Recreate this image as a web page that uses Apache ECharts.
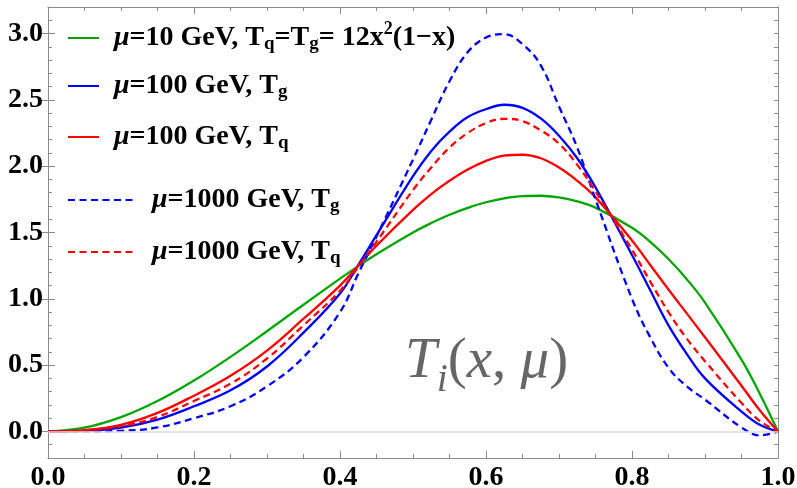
<!DOCTYPE html>
<html>
<head>
<meta charset="utf-8">
<script src="https://cdn.jsdelivr.net/npm/echarts@6/dist/echarts.min.js"></script>
<style>
  html, body { margin: 0; padding: 0; background: #fff; }
  #chart { width: 797px; height: 488px; }
</style>
</head>
<body>
<div id="chart"></div>
<script>
// x positions (denser where the curves bend most)
var xs = [0, 0.05, 0.1, 0.15, 0.2, 0.25, 0.3, 0.35, 0.4, 0.425, 0.45, 0.5, 0.525, 0.55, 0.575, 0.6, 0.625, 0.65, 0.675, 0.7, 0.725, 0.75, 0.8, 0.825, 0.85, 0.875, 0.9, 0.95, 0.975, 1];

// mu = 10 GeV, Tq = Tg
var t10    = [0, 0.0285, 0.108, 0.2295, 0.384, 0.5625, 0.756, 0.9555, 1.152, 1.2463, 1.3365, 1.5, 1.5711, 1.6335, 1.6862, 1.728, 1.758, 1.7745, 1.777, 1.764, 1.7346, 1.6875, 1.536, 1.4293, 1.3005, 1.1484, 0.972, 0.5415, 0.285, 0];
// mu = 100 GeV
var tg100  = [0, 0.005, 0.03, 0.09, 0.19, 0.31, 0.49, 0.745, 1.04, 1.255, 1.48, 1.925, 2.115, 2.26, 2.37, 2.43, 2.463, 2.44, 2.36, 2.23, 2.06, 1.84, 1.33, 1.065, 0.80, 0.585, 0.40, 0.15, 0.05, 0];
var tq100  = [0, 0.01, 0.05, 0.14, 0.27, 0.42, 0.61, 0.85, 1.10, 1.25, 1.40, 1.67, 1.79, 1.89, 1.975, 2.04, 2.08, 2.086, 2.06, 1.99, 1.89, 1.765, 1.44, 1.255, 1.07, 0.89, 0.71, 0.345, 0.16, 0];
// mu = 1000 GeV
var tg1000 = [0, 0, 0.005, 0.03, 0.10, 0.19, 0.34, 0.56, 0.90, 1.19, 1.47, 2.05, 2.35, 2.64, 2.86, 2.97, 2.995, 2.92, 2.76, 2.45, 2.14, 1.75, 1.0, 0.71, 0.48, 0.34, 0.24, 0.03, -0.03, 0];
var tq1000 = [0, 0.007, 0.04, 0.11, 0.23, 0.36, 0.55, 0.80, 1.06, 1.24, 1.43, 1.82, 1.99, 2.14, 2.25, 2.325, 2.357, 2.34, 2.27, 2.17, 2.01, 1.81, 1.37, 1.13, 0.90, 0.70, 0.53, 0.215, 0.08, 0];

var yTicks = [0, 0.5, 1.0, 1.5, 2.0, 2.5, 3.0];

var GREEN = '#00a600', BLUE = '#0000ff', RED = '#ff0000';
var SERIF = '"Liberation Serif", "Times New Roman", serif';

function pairs(ys) {
    var d = [];
    for (var i = 0; i < xs.length; i++) {
        d.push([xs[i], ys[i]]);
    }
    return d;
}

var rich = {
    mu:  { fontFamily: SERIF, fontSize: 28, fontWeight: 'bold', fontStyle: 'italic', lineHeight: 30, color: '#000', padding: [0, 0, 0, 10] },
    mu2: { fontFamily: SERIF, fontSize: 28, fontWeight: 'bold', fontStyle: 'italic', lineHeight: 30, color: '#000', padding: [0, 0, 0, 14] },
    b:   { fontFamily: SERIF, fontSize: 28, fontWeight: 'bold', lineHeight: 30, color: '#000' },
    sub: { fontFamily: SERIF, fontSize: 19, fontWeight: 'bold', lineHeight: 30, color: '#000', padding: [13, 0, 0, 0] },
    sup: { fontFamily: SERIF, fontSize: 18, fontWeight: 'bold', lineHeight: 30, color: '#000', padding: [0, 0, 18, 0] }
};

var legendText = {
    g10:   '{mu|μ}{b|=10 GeV, T}{sub|q}{b|=T}{sub|g}{b|= 12x}{sup|2}{b|(1−x)}',
    g100:  '{mu|μ}{b|=100 GeV, T}{sub|g}',
    q100:  '{mu|μ}{b|=100 GeV, T}{sub|q}',
    g1000: '{mu2|μ}{b|=1000 GeV, T}{sub|g}',
    q1000: '{mu2|μ}{b|=1000 GeV, T}{sub|q}'
};

function makeLegend(name, top, w) {
    return {
        data: [name],
        left: 67,
        top: top,
        padding: 0,
        itemWidth: w,
        itemHeight: 14,
        selectedMode: false,
        itemStyle: { opacity: 0 },
        formatter: function (n) { return legendText[n]; },
        textStyle: { rich: rich }
    };
}

function lineSeries(name, ys, color, dashed) {
    return {
        name: name,
        type: 'line',
        data: pairs(ys),
        smooth: 0.4,
        symbol: 'none',
        lineStyle: { color: color, width: 2.3, type: dashed ? [7, 4.5] : 'solid' },
        itemStyle: { color: color }
    };
}

var axisGray = '#8a8a8a';
var labelStyle = { fontFamily: SERIF, fontSize: 28, fontWeight: 'bold', color: '#000' };

function xAxisDef(pos, showLabel) {
    return {
        type: 'value', position: pos, min: 0, max: 1, interval: 0.2,
        axisLine: { show: true, onZero: false, lineStyle: { color: axisGray, width: 1 } },
        axisTick: { show: true, inside: true, length: 7, lineStyle: { color: axisGray } },
        minorTick: { show: true, splitNumber: 4, length: 4, lineStyle: { color: axisGray } },
        axisLabel: Object.assign({ show: showLabel, margin: 6, formatter: function (v) { return v.toFixed(1); } }, labelStyle),
        splitLine: { show: false }
    };
}

function yMinor(pos) {
    return {
        type: 'value', position: pos, min: -0.2, max: 3.2, interval: 0.1,
        axisLine: { show: true, onZero: false, lineStyle: { color: axisGray, width: 1 } },
        axisTick: { show: true, inside: true, length: 4, lineStyle: { color: axisGray } },
        axisLabel: { show: false },
        splitLine: { show: false }
    };
}

function yMajor(pos, showLabel) {
    return {
        type: 'value', position: pos, min: -0.2, max: 3.2,
        axisLine: { show: false },
        axisTick: { show: true, inside: true, length: 7, customValues: yTicks, lineStyle: { color: axisGray } },
        axisLabel: Object.assign({ show: showLabel, margin: 5, customValues: yTicks, formatter: function (v) { return v.toFixed(1); } }, labelStyle),
        splitLine: { show: false }
    };
}

var chart = echarts.init(document.getElementById('chart'));

var series = [
    lineSeries('g10', t10, GREEN, false),
    lineSeries('g100', tg100, BLUE, false),
    lineSeries('q100', tq100, RED, false),
    lineSeries('g1000', tg1000, BLUE, true),
    lineSeries('q1000', tq1000, RED, true)
];
// light zero line
series[0].markLine = {
    silent: true,
    symbol: ['none', 'none'],
    label: { show: false },
    lineStyle: { color: '#dcdcdc', width: 1.5, type: 'solid' },
    data: [{ yAxis: 0 }]
};

var titleRich = {
    t: { fontFamily: SERIF, fontSize: 57, fontStyle: 'italic', fontWeight: 'normal', color: '#666', lineHeight: 60 },
    s: { fontFamily: SERIF, fontSize: 40, fontStyle: 'italic', fontWeight: 'normal', color: '#666', lineHeight: 60, padding: [36, 0, 0, 0] },
    p: { fontFamily: SERIF, fontSize: 57, fontStyle: 'normal', fontWeight: 'normal', color: '#666', lineHeight: 60 }
};

var option = {
    animation: false,
    backgroundColor: '#fff',
    grid: { left: 48, right: 19, top: 7, bottom: 30, outerBoundsMode: 'none' },
    title: {
        text: '{t|T}{s|i}{p|(}{t|x}{p|, }{t|μ}{p|)}',
        left: 405,
        top: 332,
        padding: 0,
        textStyle: { fontWeight: 'normal', rich: titleRich }
    },
    legend: [
        makeLegend('g10', 20, 31),
        makeLegend('g100', 70, 31),
        makeLegend('q100', 121, 31),
        makeLegend('g1000', 184, 65),
        makeLegend('q1000', 236, 65)
    ],
    xAxis: [xAxisDef('bottom', true), xAxisDef('top', false)],
    yAxis: [yMinor('left'), yMajor('left', true), yMinor('right'), yMajor('right', false)],
    series: series
};

chart.setOption(option);
</script>
</body>
</html>
